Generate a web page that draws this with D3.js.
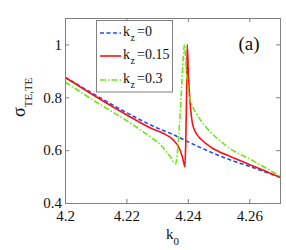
<!DOCTYPE html>
<html>
<head>
<meta charset="utf-8">
<script src="https://cdn.jsdelivr.net/npm/d3@7"></script>
<style>
  body { margin: 0; background: #fff; }
  svg text { font-family: "Liberation Serif", "Times New Roman", Times, serif; fill: #111; }
</style>
</head>
<body>
<div id="chart"></div>
<script>
// sigma_TE,TE vs k0 for three kz values
const kz0K     = [4.2, 4.21, 4.22, 4.23, 4.235, 4.24, 4.245, 4.25, 4.255, 4.26, 4.265, 4.27];
const kz0Sigma = [0.876, 0.808, 0.742, 0.684, 0.66, 0.632, 0.605, 0.58, 0.558, 0.539, 0.518, 0.497];

const kz15K     = [4.2, 4.21, 4.22, 4.2278, 4.2321, 4.2353, 4.237, 4.2382, 4.2387, 4.239, 4.2393, 4.2396, 4.2398,
                   4.2402, 4.2406, 4.241, 4.2414, 4.2422, 4.2431, 4.2442, 4.2474, 4.25, 4.254, 4.2605, 4.265, 4.27];
const kz15Sigma = [0.876, 0.803, 0.734, 0.684, 0.663, 0.638, 0.612, 0.575, 0.55, 0.537, 0.62, 0.82, 1.0,
                   0.88, 0.8, 0.745, 0.707, 0.675, 0.657, 0.642, 0.612, 0.595, 0.575, 0.543, 0.522, 0.497];

const kz3K     = [4.2, 4.21, 4.22, 4.2278, 4.2311, 4.2343, 4.236, 4.237, 4.2378, 4.2385, 4.2389,
                  4.2395, 4.2402, 4.2414, 4.2431, 4.2463, 4.2496, 4.254, 4.2605, 4.265, 4.27];
const kz3Sigma = [0.858, 0.783, 0.712, 0.65, 0.62, 0.575, 0.548, 0.65, 0.8, 0.95, 1.0,
                  0.9, 0.82, 0.77, 0.732, 0.682, 0.644, 0.604, 0.564, 0.535, 0.502];

const xTicks = [4.2, 4.22, 4.24, 4.26];
const yTicks = [0.4, 0.6, 0.8, 1];
const legendLabels = ["0", "0.15", "0.3"];

const W = 286, H = 250;
const m = {left: 65, right: 6, top: 18, bottom: 47};
const serif = "Liberation Serif";

const svg = d3.select("#chart").append("svg").attr("width", W).attr("height", H)
  .style("font-family", serif);

const x = d3.scaleLinear().domain([4.2, 4.27]).range([m.left, W - m.right]);
const y = d3.scaleLinear().domain([0.4, 1.1]).range([H - m.bottom, m.top]);

const series = [
  {k: kz0K, s: kz0Sigma, color: "#2448ff", dash: "4,2.5"},
  {k: kz15K, s: kz15Sigma, color: "#ff1010", dash: null},
  {k: kz3K, s: kz3Sigma, color: "#6ee812", dash: "6,2,1.5,2"}
];

svg.append("clipPath").attr("id", "clip").append("rect")
  .attr("x", m.left).attr("y", m.top)
  .attr("width", W - m.left - m.right).attr("height", H - m.top - m.bottom);

const line = d3.line().x(d => x(d[0])).y(d => y(d[1])).curve(d3.curveMonotoneX);

const gLines = svg.append("g").attr("clip-path", "url(#clip)");
series.forEach(sr => {
  gLines.append("path")
    .datum(sr.k.map((k, i) => [k, sr.s[i]]))
    .attr("d", line)
    .attr("fill", "none")
    .attr("stroke", sr.color)
    .attr("stroke-width", 1.6)
    .attr("stroke-dasharray", sr.dash);
});

// axes, ticks pointing inward
const axisColor = "#808080";
const axBottom = svg.append("g").attr("transform", `translate(0,${H - m.bottom})`)
  .call(d3.axisBottom(x).tickValues(xTicks).tickSize(-4).tickPadding(7).tickFormat(d3.format("")));
const axLeft = svg.append("g").attr("transform", `translate(${m.left},0)`)
  .call(d3.axisLeft(y).tickValues(yTicks).tickSize(-4).tickPadding(3).tickFormat(d3.format("")));
const axTop = svg.append("g").attr("transform", `translate(0,${m.top})`)
  .call(d3.axisTop(x).tickValues(xTicks).tickSize(-4).tickFormat(""));
const axRight = svg.append("g").attr("transform", `translate(${W - m.right},0)`)
  .call(d3.axisRight(y).tickValues(yTicks).tickSize(-4).tickFormat(""));

[axBottom, axLeft, axTop, axRight].forEach(g => {
  g.attr("font-family", null).attr("font-size", 15);
  g.select(".domain").attr("stroke", axisColor);
  g.selectAll(".tick line").attr("stroke", axisColor);
  g.selectAll("text").attr("fill", "#111").style("font-family", serif);
});

// axis labels
const xl = svg.append("text").attr("x", 166).attr("y", 239).attr("font-size", 15);
xl.append("tspan").text("k");
xl.append("tspan").attr("dy", 6).attr("font-size", 11).text("0");

const yl = svg.append("text").attr("transform", "translate(25,117) rotate(-90)").attr("font-size", 18);
yl.append("tspan").text("σ");
yl.append("tspan").attr("dy", 7).attr("font-size", 11).text("TE,TE");

svg.append("text").attr("x", 238.5).attr("y", 50).attr("font-size", 19).text("(a)");

// legend
const lg = svg.append("g");
lg.append("rect").attr("x", 96.5).attr("y", 20.5).attr("width", 76).attr("height", 71.5)
  .attr("fill", "#fff").attr("stroke", axisColor).attr("stroke-width", 1);
const rowsY = [33, 56, 80];
series.forEach((sr, i) => {
  const ry = rowsY[i];
  lg.append("line").attr("x1", 100).attr("x2", 121).attr("y1", ry).attr("y2", ry)
    .attr("stroke", sr.color).attr("stroke-width", 1.6).attr("stroke-dasharray", sr.dash);
  lg.append("text").attr("x", 123).attr("y", ry + 3).attr("font-size", 14).text("k");
  lg.append("text").attr("x", 130.5).attr("y", ry + 8).attr("font-size", 10).text("z");
  lg.append("text").attr("x", 137).attr("y", ry + 3).attr("font-size", 14).text("=" + legendLabels[i]);
});
</script>
</body>
</html>
